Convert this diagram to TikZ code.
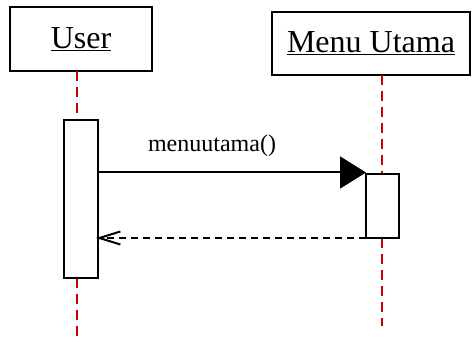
\documentclass[tikz,border=0pt]{standalone}
\usepackage{fontspec}
\setmainfont{Liberation Serif}
\usetikzlibrary{arrows.meta}
\definecolor{lifered}{RGB}{200,0,0}
\tikzset{
  actor/.style={draw=black, line width=2pt, inner sep=0pt, font=\fontsize{32}{36}\selectfont},
  actbox/.style={draw=black, line width=2pt, fill=white, inner sep=0pt},
  lifeline/.style={draw=lifered, line width=2.5pt, dash pattern=on 10pt off 6pt},
  callmsg/.style={draw=black, line width=2pt, -{Triangle[length=26pt,width=32pt]}},
  retmsg/.style={draw=black, line width=2pt, dash pattern=on 7pt off 5pt, -{Straight Barb[length=21pt,width=13pt,line width=2pt]}},
  msglabel/.style={font=\fontsize{24}{26}\selectfont, inner sep=0pt}
}
\begin{document}
\begin{tikzpicture}[x=1pt,y=-1pt]
\useasboundingbox (0,0) rectangle (472,342);
\node[actor, minimum width=142pt, minimum height=64pt] (user) at (81,39) {\underline{User}};
\node[actor, minimum width=198pt, minimum height=63pt] (menu) at (371,43.5) {\underline{Menu Utama}};
% lifelines
\coordinate (u1) at (77,71);
\coordinate (u2) at (77,120);
\coordinate (u3) at (77,278);
\coordinate (u4) at (77,342);
\coordinate (m1) at (382,75);
\coordinate (m2) at (382,174);
\coordinate (m3) at (382,238);
\coordinate (m4) at (382,326);
\draw[lifeline] (u1) -- (u2);
\draw[lifeline] (u3) -- (u4);
\draw[lifeline] (m1) -- (m2);
\draw[lifeline] (m3) -- (m4);
% activations
\node[actbox, minimum width=34pt, minimum height=158pt] (uact) at (81,199) {};
\node[actbox, minimum width=33pt, minimum height=64pt] (mact) at (382.5,206) {};
% messages
\coordinate (c1) at (98,172.5);
\coordinate (c2) at (366,172.5);
\draw[callmsg] (c1) -- (c2);
\node[msglabel] (lbl) at (212,146) {menuutama()};
\coordinate (r1) at (366,238);
\coordinate (r2) at (96,238);
\draw[retmsg] (r1) -- (r2);
\end{tikzpicture}
\end{document}
